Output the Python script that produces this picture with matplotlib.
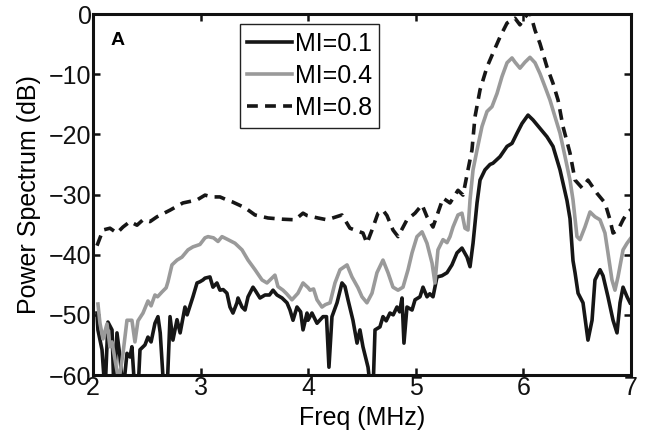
import numpy as np
import matplotlib
matplotlib.use('Agg')
import matplotlib.pyplot as plt

plt.rcParams['font.family'] = ['Liberation Sans', 'DejaVu Sans']

# MI = 0.1 (black)
freq_01 = [2.037, 2.046, 2.084, 2.112, 2.139, 2.177, 2.195, 2.223, 2.251, 2.279,
           2.316, 2.344, 2.362, 2.390, 2.418, 2.437, 2.483, 2.511, 2.540, 2.576,
           2.604, 2.625, 2.660, 2.688, 2.716, 2.743, 2.781, 2.810, 2.855, 2.875,
           2.929, 2.967, 2.994, 3.022, 3.041, 3.087, 3.115, 3.152, 3.180, 3.210,
           3.245, 3.273, 3.301, 3.338, 3.348, 3.385, 3.413, 3.441, 3.487, 3.510,
           3.552, 3.599, 3.640, 3.673, 3.710, 3.757, 3.803, 3.831, 3.859, 3.896,
           3.930, 3.952, 3.989, 3.998, 4.035, 4.082, 4.138, 4.170, 4.193, 4.221,
           4.268, 4.314, 4.342, 4.370, 4.416, 4.454, 4.481, 4.509, 4.556, 4.584,
           4.602, 4.621, 4.667, 4.695, 4.725, 4.760, 4.790, 4.825, 4.850, 4.872,
           4.890, 4.918, 4.965, 4.993, 5.039, 5.067, 5.104, 5.130, 5.160, 5.197,
           5.243, 5.290, 5.336, 5.383, 5.429, 5.476, 5.504, 5.532, 5.569, 5.597,
           5.643, 5.690, 5.717, 5.783, 5.848, 5.894, 5.941, 5.987, 6.043, 6.089,
           6.154, 6.219, 6.275, 6.340, 6.405, 6.433, 6.461, 6.480, 6.508, 6.554,
           6.600, 6.638, 6.665, 6.712, 6.740, 6.786, 6.833, 6.870, 6.898, 6.926,
           6.963, 6.991]
db_01 = [-49.7, -52.5, -55.8, -63, -51.2, -52.5, -63, -53, -57, -63,
         -56.4, -57, -55.3, -63, -63, -55.8, -55, -53.7, -54.5, -51.4,
         -50.3, -53, -63, -63, -50.3, -54.2, -50.8, -53, -48.7, -50,
         -47, -44.7, -44.5, -44.2, -43.9, -43.7, -45.4, -44.7, -45.9, -45.8,
         -46.4, -48.7, -49.7, -48, -47.2, -48.7, -49.2, -47, -45.4, -46,
         -47.2, -46.7, -46.7, -45.9, -46.7, -47.2, -48, -49.2, -50.9, -48.7,
         -49.5, -52.5, -49.7, -50.9, -49.7, -51.4, -50.3, -50.3, -58.7, -50.3,
         -48, -44.7, -45.3, -47.5, -50.9, -54.7, -52.5, -55.3, -58.7, -63,
         -63, -52.5, -52, -50.3, -51, -49.7, -50, -48.7, -49.5, -47.2,
         -54.7, -48.7, -49.2, -47.5, -47, -45.4, -47, -46.5, -47, -43.7,
         -43.5, -43, -41.7, -39.7, -38.9, -40.4, -42, -38.1, -31.4, -27.6,
         -25.9, -25.0, -24.8, -23.7, -22, -21.5, -19.8, -18.2, -16.8, -17.6,
         -19, -20.4, -22, -25.9, -31, -34, -41, -43, -46.4, -48,
         -54.2, -50.9, -44.2, -42.5, -43.5, -47, -50.9, -53, -48, -45.4,
         -47, -48]

# MI = 0.4 (grey)
freq_04 = [2.046, 2.065, 2.093, 2.130, 2.158, 2.177, 2.210, 2.240, 2.279, 2.316,
           2.362, 2.390, 2.418, 2.465, 2.511, 2.540, 2.576, 2.600, 2.641, 2.680,
           2.697, 2.734, 2.781, 2.827, 2.883, 2.929, 2.994, 3.041, 3.069, 3.120,
           3.162, 3.199, 3.255, 3.320, 3.385, 3.441, 3.506, 3.571, 3.617, 3.691,
           3.719, 3.766, 3.800, 3.849, 3.905, 3.952, 4.000, 4.017, 4.050, 4.082,
           4.128, 4.160, 4.203, 4.249, 4.296, 4.361, 4.407, 4.463, 4.500, 4.546,
           4.593, 4.639, 4.695, 4.742, 4.788, 4.835, 4.881, 4.928, 4.965, 5.011,
           5.058, 5.104, 5.151, 5.178, 5.206, 5.253, 5.290, 5.318, 5.346, 5.392,
           5.429, 5.457, 5.485, 5.504, 5.532, 5.569, 5.615, 5.662, 5.708, 5.755,
           5.801, 5.848, 5.894, 5.922, 5.968, 6.015, 6.061, 6.108, 6.154, 6.201,
           6.247, 6.294, 6.340, 6.387, 6.433, 6.461, 6.498, 6.526, 6.572, 6.619,
           6.665, 6.712, 6.758, 6.786, 6.823, 6.851, 6.879, 6.926, 6.963, 7.000]
db_04 = [-48.2, -51.4, -54, -51.5, -55.3, -54.5, -58, -61, -56.4, -50.9,
         -50.9, -54.5, -51, -49.7, -47.7, -48.5, -46.7, -47, -46.2, -45.5,
         -44.5, -41.7, -40.9, -40.4, -39.2, -38.7, -38.3, -37.2, -37, -37.2,
         -37.8, -37, -37.5, -38.1, -39.2, -40.9, -42.5, -44.2, -44.7, -43.4,
         -45.3, -45.9, -46.5, -47.5, -46.4, -44.7, -45.5, -45.9, -45.7, -47.5,
         -48.7, -48.3, -48, -44.7, -42.5, -41.7, -43.7, -45.5, -47, -48,
         -46.4, -43, -40.9, -43, -45.4, -45.9, -45.4, -42.5, -39.7, -37,
         -36.2, -38.1, -41.4, -44.7, -39.2, -37.5, -38, -37, -35.4, -33.4,
         -33.1, -35.6, -35.9, -30.9, -25.9, -22.6, -18.7, -16.2, -15.4, -13.2,
         -10.4, -8.1, -7.3, -8.0, -9, -8, -7.2, -8.1, -9.9, -12.1,
         -14.3, -17.1, -19.8, -23.7, -27.6, -30.9, -37, -37.5, -35.4, -32.9,
         -33.7, -34.2, -36.4, -39.7, -44.2, -45.9, -43.7, -39.2, -38.1, -37.2]

# MI = 0.8 (dashed)
freq_08 = [2.037, 2.046, 2.093, 2.158, 2.223, 2.279, 2.344, 2.409, 2.465, 2.530,
           2.595, 2.716, 2.836, 2.967, 3.041, 3.106, 3.180, 3.245, 3.292, 3.413,
           3.506, 3.626, 3.757, 3.877, 3.952, 3.990, 4.091, 4.175, 4.314, 4.388,
           4.509, 4.546, 4.593, 4.649, 4.695, 4.732, 4.788, 4.835, 4.918, 4.993,
           5.058, 5.104, 5.160, 5.253, 5.318, 5.392, 5.439, 5.485, 5.522, 5.550,
           5.597, 5.662, 5.717, 5.783, 5.848, 5.922, 5.968, 6.015, 6.061, 6.108,
           6.154, 6.219, 6.275, 6.322, 6.368, 6.433, 6.480, 6.545, 6.600, 6.684,
           6.758, 6.805, 6.833, 6.879, 6.926, 6.963, 7.000]
db_08 = [-38.5, -38.1, -35.9, -35.6, -36.4, -35.4, -34.5, -35.1, -34.2, -34.5,
         -33.7, -32.6, -31.4, -30.9, -30.1, -30.4, -30.4, -30.9, -31.2, -32.2,
         -33.4, -33.9, -34.1, -34.2, -33.1, -33.5, -33.9, -34.2, -33.4, -35.6,
         -36.4, -38.1, -35.9, -33.1, -32.6, -33.5, -35.9, -37, -34.2, -33.1,
         -31.7, -33.7, -35.4, -30.6, -31.4, -29.3, -30.1, -25.9, -22.6, -17.1,
         -12.6, -8.8, -6.5, -3.8, -1.5, -0.7, -1.8, -0.5, 0.3, -2.7,
         -4.9, -8.8, -11.5, -14.3, -18.7, -23.1, -27.6, -28.9, -27.6, -29.8,
         -31.4, -34.2, -36.4, -35.9, -34.2, -33.1, -32.5]

labels = ['MI=0.1', 'MI=0.4', 'MI=0.8']

fig = plt.figure(figsize=(6.52, 4.38), dpi=100, facecolor='white')
ax = fig.add_axes([0.1426, 0.1438, 0.8252, 0.8242])

ax.plot(freq_01, db_01, color='#161616', linewidth=2.6, label=labels[0])
ax.plot(freq_04, db_04, color='#9a9a9a', linewidth=2.6, label=labels[1])
ax.plot(freq_08, db_08, color='#161616', linewidth=2.6, dashes=(3.0, 2.0),
        label=labels[2])

ax.set_xlim(2, 7)
ax.set_ylim(-60, 0)
ax.set_xticks([2, 3, 4, 5, 6, 7])
ax.set_yticks([0, -10, -20, -30, -40, -50, -60])
ax.set_yticklabels(['0', '\u221210', '\u221220', '\u221230', '\u221240', '\u221250', '\u221260'])
ax.tick_params(direction='in', length=5, width=1.8, top=True, right=True,
               labelsize=18, pad=1, colors='#111111')
for s in ax.spines.values():
    s.set_linewidth(2.2)
    s.set_color('#111111')

ax.set_xlabel('Freq (MHz)', fontsize=18, labelpad=4)
ax.set_ylabel('Power Spectrum (dB)', fontsize=18, labelpad=6)

ax.text(0.032, 0.928, 'A', transform=ax.transAxes, fontsize=14,
        fontweight='bold', va='center', ha='left')

leg = ax.legend(loc='upper left', bbox_to_anchor=(0.273, 0.972), fontsize=18,
                frameon=True, fancybox=False, framealpha=1, edgecolor='#222222',
                handlelength=1.8, handletextpad=0.1, labelspacing=0.33,
                borderpad=0.3, borderaxespad=0)
leg.get_frame().set_linewidth(1.0)

fig.savefig('out.png', dpi=100, facecolor='white')
